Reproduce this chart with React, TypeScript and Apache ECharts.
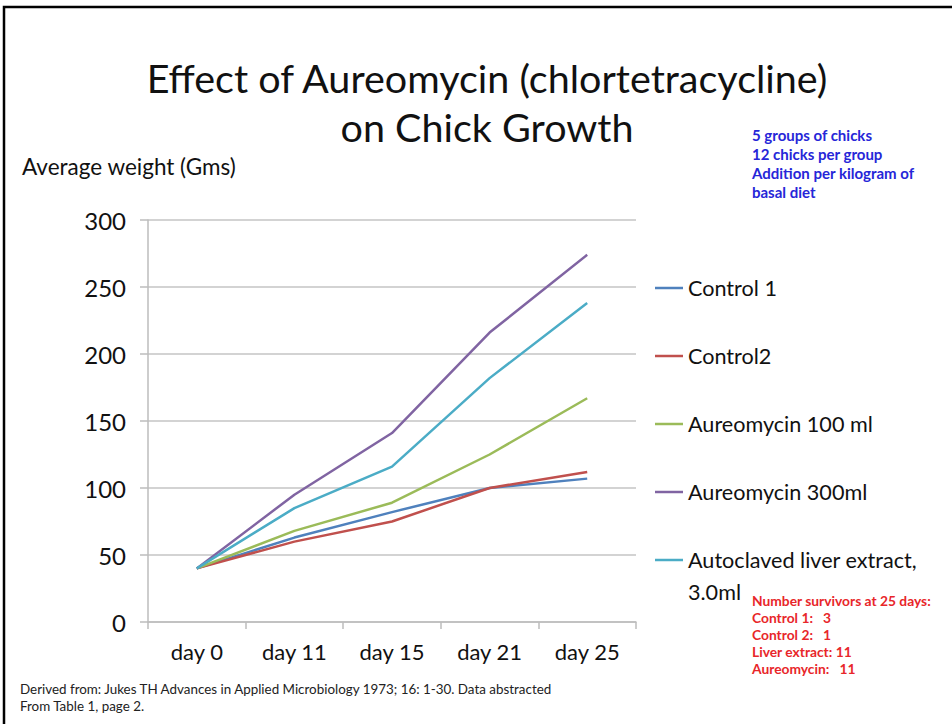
import React, { useEffect, useRef } from "react";
import * as echarts from "echarts";

const categories = ["day 0", "day 11", "day 15", "day 21", "day 25"];
const control1 = [40, 63, 82, 100, 107];
const control2 = [40, 60, 75, 100, 112];
const aureo100 = [40, 68, 89, 125, 167];
const aureo300 = [40, 95, 141, 216, 274];
const liver = [40, 85, 116, 182, 238];
const seriesNames = [
  "Control 1",
  "Control2",
  "Aureomycin 100 ml",
  "Aureomycin 300ml",
  "Autoclaved liver extract, 3.0ml",
];
const seriesColors = ["#4F81BD", "#C0504D", "#9BBB59", "#8064A2", "#4BACC6"];
const titleLines = ["Effect of Aureomycin (chlortetracycline)", "on Chick Growth"];
const yAxisTitle = "Average weight (Gms)";
const infoLines = ["5 groups of chicks", "12 chicks per group", "Addition per kilogram of", "basal diet"];
const survivorLines = [
  "Number survivors at 25 days:",
  "Control 1:   3",
  "Control 2:   1",
  "Liver extract: 11",
  "Aureomycin:   11",
];
const footerLines = [
  "Derived from: Jukes TH Advances in Applied Microbiology 1973; 16: 1-30. Data abstracted",
  "From Table 1, page 2.",
];

const FONT = "Lato, 'Open Sans', sans-serif";
const LINE_ICON = "path://M0,0 H28 V2.5 H0 Z";

export default function App() {
  const ref = useRef<HTMLDivElement>(null);
  useEffect(() => {
    if (!ref.current) return;
    const chart = echarts.init(ref.current, undefined, { renderer: "svg" });
    const dataSets = [control1, control2, aureo100, aureo300, liver];
    const legendText = { fontFamily: FONT, fontSize: 21.6, color: "#111", lineHeight: 32 };
    chart.setOption({
      animation: false,
      backgroundColor: "#ffffff",
      textStyle: { fontFamily: FONT },
      grid: { left: 148, right: 316, top: 220, bottom: 102, containLabel: false },
      xAxis: {
        type: "category",
        data: categories,
        boundaryGap: true,
        axisLine: { show: true, lineStyle: { color: "#bdbdbd", width: 1.5 } },
        axisTick: { show: true, length: 7, alignWithLabel: false, lineStyle: { color: "#bdbdbd", width: 1.5 } },
        axisLabel: { fontFamily: FONT, fontSize: 22, color: "#111", margin: 18 },
        splitLine: { show: false },
      },
      yAxis: {
        type: "value",
        min: 0,
        max: 300,
        interval: 50,
        axisLine: { show: true, lineStyle: { color: "#bdbdbd", width: 1.5 } },
        axisTick: { show: true, length: 8, lineStyle: { color: "#bdbdbd", width: 1.5 } },
        axisLabel: { fontFamily: FONT, fontSize: 24, color: "#111", margin: 22 },
        splitLine: { show: true, lineStyle: { color: "#c4c4c4", width: 1.5 } },
      },
      legend: [
        {
          orient: "vertical",
          left: 655,
          top: 272,
          padding: 0,
          icon: LINE_ICON,
          itemWidth: 28,
          itemHeight: 2.5,
          itemGap: 36,
          data: seriesNames.slice(0, 4),
          textStyle: legendText,
        },
        {
          orient: "vertical",
          left: 655,
          top: 512,
          padding: 0,
          icon: LINE_ICON,
          itemWidth: 28,
          itemHeight: 2.5,
          data: [seriesNames[4]],
          formatter: () => "\nAutoclaved liver extract,\n3.0ml",
          textStyle: legendText,
        },
      ],
      series: dataSets.map((d, i) => ({
        name: seriesNames[i],
        type: "line",
        data: d,
        symbol: "none",
        showSymbol: false,
        color: seriesColors[i],
        itemStyle: { color: seriesColors[i] },
        lineStyle: { color: seriesColors[i], width: 2.5 },
      })),
      graphic: [
        {
          type: "rect",
          shape: { x: 4, y: 7, width: 1100, height: 900 },
          style: { fill: "none", stroke: "#000", lineWidth: 2.5 },
          silent: true,
        },
        ...titleLines.map((t, i) => ({
          type: "text",
          x: 487,
          y: 77 + i * 49,
          style: {
            text: t,
            fontFamily: FONT,
            fontSize: 39.5,
            fill: "#111",
            align: "center",
            verticalAlign: "middle",
          },
        })),
        {
          type: "text",
          x: 22,
          y: 166,
          style: { text: yAxisTitle, fontFamily: FONT, fontSize: 22.5, fill: "#111", verticalAlign: "middle" },
        },
        ...infoLines.map((t, i) => ({
          type: "text",
          x: 752,
          y: 135 + i * 19,
          style: {
            text: t,
            fontFamily: FONT,
            fontSize: 15,
            fontWeight: "bold",
            fill: "#2626D8",
            verticalAlign: "middle",
          },
        })),
        ...survivorLines.map((t, i) => ({
          type: "text",
          x: 752,
          y: 600 + i * 17,
          style: {
            text: t,
            fontFamily: FONT,
            fontSize: 13.8,
            fontWeight: "bold",
            fill: "#E8262A",
            verticalAlign: "middle",
          },
        })),
        ...footerLines.map((t, i) => ({
          type: "text",
          x: 20,
          y: 689 + i * 17,
          style: { text: t, fontFamily: FONT, fontSize: 13.4, fill: "#222", verticalAlign: "middle" },
        })),
      ],
    });
    return () => chart.dispose();
  }, []);
  return (
    <div
      ref={ref}
      style={{ position: "fixed", left: 0, top: 0, width: 952, height: 724, background: "#fff" }}
    />
  );
}
